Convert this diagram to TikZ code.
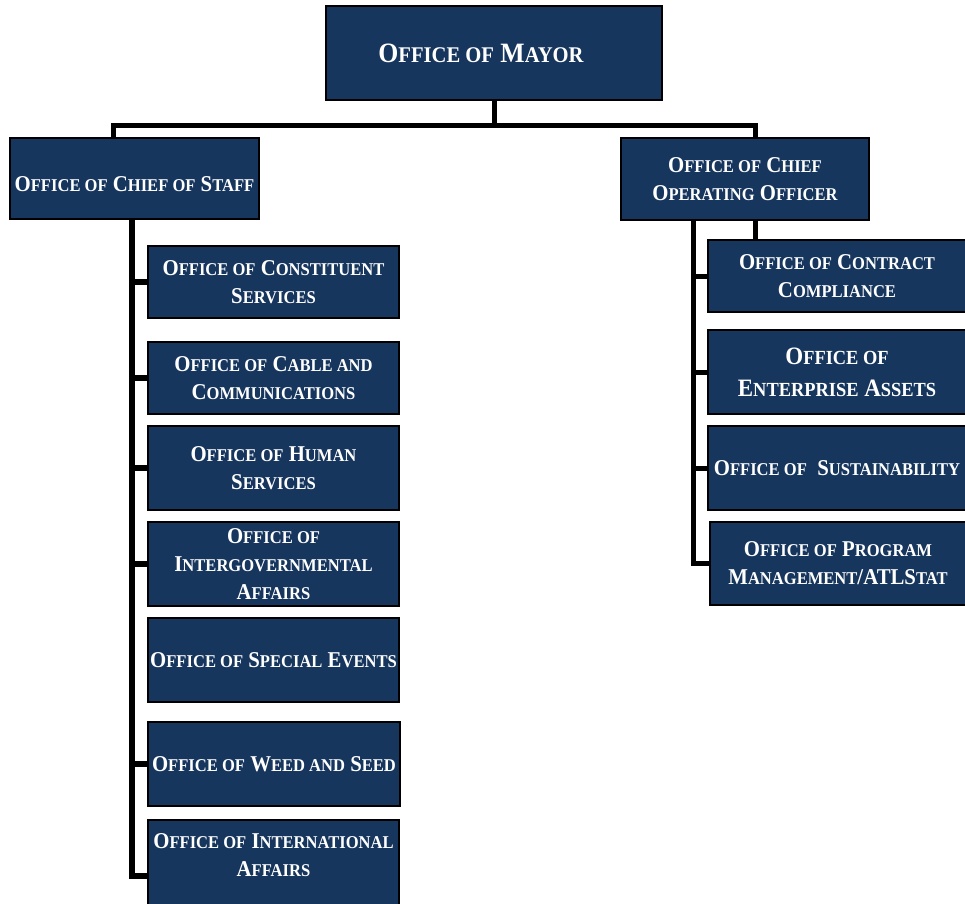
\documentclass[tikz,border=0pt]{standalone}
\usepackage{fontspec}
\setmainfont{Liberation Serif}[FakeStretch=0.92]
\definecolor{navy}{RGB}{23,54,93}
% small-cap style lower part of a word, size taken from \smsz
\newcommand\lo[1]{{\fontsize{\smsz}{\the\baselineskip}\selectfont #1}}
\tikzset{
  office/.style={draw=black, line width=1.2pt, fill=navy, text=white,
    align=center, anchor=north west, inner sep=0pt, outer sep=0pt,
    font=\fontsize{22.6}{28}\selectfont\def\smsz{18}\bfseries},
  bigtext/.style={font=\fontsize{25}{32}\selectfont\def\smsz{20}\bfseries},
  mayortext/.style={font=\fontsize{28}{34}\selectfont\def\smsz{22.4}\bfseries},
  link/.style={draw=black, line width=5pt, line join=miter, line cap=butt},
  spine/.style={link, line width=6pt}
}
\begin{document}
\begin{tikzpicture}[x=1pt,y=-1pt]
\useasboundingbox (0,0) rectangle (965,903);

% head office and the two deputies
\node[office, mayortext, minimum width=336pt, minimum height=94pt] (mayor) at (326,6)
  {O\lo{FFICE OF} M\lo{AYOR}\hspace*{26pt}};
\node[office, minimum width=249pt, minimum height=81pt] (cos) at (10,138)
  {\\[-2pt]O\lo{FFICE OF} C\lo{HIEF OF} S\lo{TAFF}};
\node[office, minimum width=248pt, minimum height=82pt] (coo) at (621,138)
  {O\lo{FFICE OF} C\lo{HIEF}\\O\lo{PERATING} O\lo{FFICER}};

% offices under the chief of staff
\node[office, minimum width=251pt, minimum height=72pt] (L1) at (148,246)
  {O\lo{FFICE OF} C\lo{ONSTITUENT}\\S\lo{ERVICES}};
\node[office, minimum width=251pt, minimum height=72pt] (L2) at (148,342)
  {O\lo{FFICE OF} C\lo{ABLE AND}\\C\lo{OMMUNICATIONS}};
\node[office, minimum width=251pt, minimum height=84pt] (L3) at (148,426)
  {O\lo{FFICE OF} H\lo{UMAN}\\S\lo{ERVICES}};
\node[office, minimum width=251pt, minimum height=84pt] (L4) at (148,522)
  {O\lo{FFICE OF}\\I\lo{NTERGOVERNMENTAL}\\A\lo{FFAIRS}};
\node[office, minimum width=251pt, minimum height=84pt] (L5) at (148,618)
  {O\lo{FFICE OF} S\lo{PECIAL} E\lo{VENTS}};
\node[office, minimum width=252pt, minimum height=84pt] (L6) at (148,722)
  {O\lo{FFICE OF} W\lo{EED AND} S\lo{EED}};
\node[office, minimum width=251pt, minimum height=90pt] (L7) at (148,820)
  {O\lo{FFICE OF} I\lo{NTERNATIONAL}\\A\lo{FFAIRS}\\[-8pt]};

% offices under the chief operating officer
\node[office, minimum width=258pt, minimum height=72pt] (R1) at (708,240)
  {O\lo{FFICE OF} C\lo{ONTRACT}\\C\lo{OMPLIANCE}};
\node[office, bigtext, minimum width=258pt, minimum height=84pt] (R2) at (708,330)
  {O\lo{FFICE OF}\\E\lo{NTERPRISE} A\lo{SSETS}};
\node[office, minimum width=258pt, minimum height=84pt] (R3) at (708,426)
  {O\lo{FFICE OF}\ \ S\lo{USTAINABILITY}};
\node[office, minimum width=256pt, minimum height=83pt] (R4) at (710,522)
  {O\lo{FFICE OF} P\lo{ROGRAM}\\M\lo{ANAGEMENT}/ATLS\lo{TAT}};

% connector guides
\coordinate (busL) at (113,125);
\coordinate (busR) at (755,125);
\coordinate (spineL) at (132,0);
\coordinate (spineR) at (693,0);

% mayor to deputies
\draw[link] (mayor.south) -- (mayor.south |- busL);
\draw[link] (busL |- cos.north) -- (busL) -- (busR) -- (busR |- coo.north);

% chief of staff branch
\foreach \k in {L1,L2,L3,L4,L6}
  \draw[spine] (cos.south -| spineL) |- (\k.west);
\draw[spine] (cos.south -| spineL) |- ([yshift=-11pt]L7.west);

% chief operating officer branch
\foreach \k in {R1,R2,R3,R4}
  \draw[link] (coo.south -| spineR) |- (\k.west);
\draw[link] (coo.south -| busR) -- (R1.north -| busR);
\end{tikzpicture}
\end{document}
